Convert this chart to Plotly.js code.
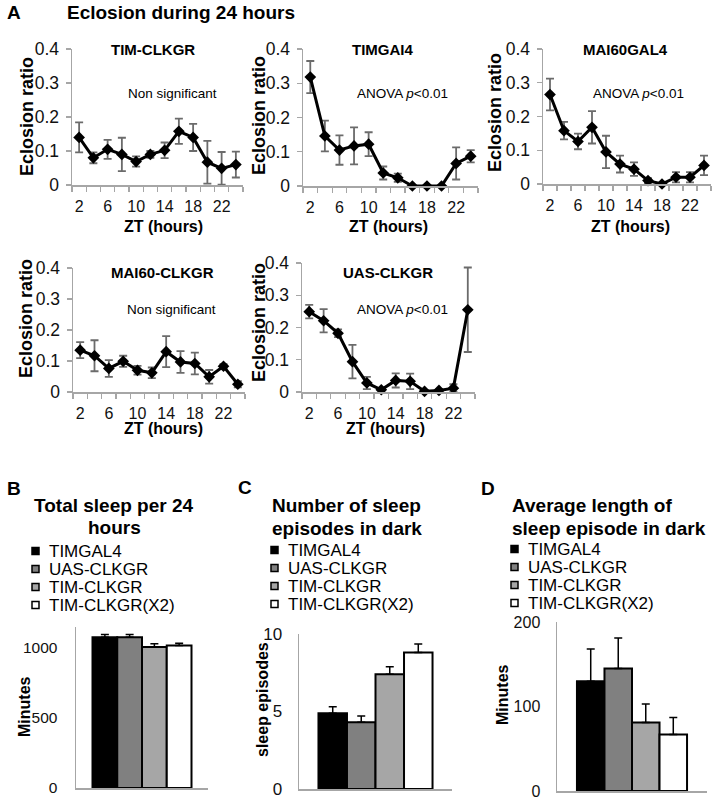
<!DOCTYPE html>
<html><head><meta charset="utf-8">
<script src="https://cdn.plot.ly/plotly-3.0.1.min.js"></script>
<style>html,body{margin:0;padding:0;background:#fff}#chart{width:715px;height:800px}</style>
</head><body><div id="chart"></div>
<script>
// ---------- data ----------
const zt = [2,4,6,8,10,12,14,16,18,20,22,24];
const ztTickVals = [2,6,10,14,18,22];
const ztTickText = ['2','6','10','14','18','22'];
const ratioTickVals = [0,0.1,0.2,0.3,0.4];
const ratioTickText = ['0','0.1','0.2','0.3','0.4'];

const timClkgr      = [0.140,0.080,0.105,0.090,0.069,0.090,0.102,0.158,0.140,0.067,0.049,0.060];
const timClkgrErr   = [0.044,0.016,0.028,0.049,0.015,0.010,0.023,0.037,0.040,0.063,0.048,0.038];
const timGal4       = [0.318,0.146,0.105,0.117,0.122,0.038,0.024,0,0,0,0.066,0.087];
const timGal4Err    = [0.047,0.045,0.043,0.054,0.035,0.019,0.012,0,0,0,0.047,0.018];
const mai60Gal4     = [0.265,0.158,0.126,0.168,0.095,0.059,0.044,0.010,0,0.020,0.020,0.055];
const mai60Gal4Err  = [0.047,0.026,0.023,0.048,0.048,0.025,0.020,0.007,0,0.015,0.015,0.029];
const mai60Clkgr    = [0.135,0.117,0.076,0.099,0.070,0.062,0.130,0.097,0.092,0.049,0.083,0.025];
const mai60ClkgrErr = [0.026,0.050,0.027,0.018,0.014,0.017,0.050,0.035,0.035,0.022,0.007,0.010];
const uasClkgr      = [0.249,0.221,0.182,0.094,0.028,0.007,0.036,0.033,0.002,0.005,0.012,0.255];
const uasClkgrErr   = [0.021,0.036,0.012,0.052,0.019,0.003,0.022,0.024,0.002,0.003,0.012,0.131];

const genotypes = ['TIMGAL4','UAS-CLKGR','TIM-CLKGR','TIM-CLKGR(X2)'];
const totalSleep       = [1076,1076,1007,1017];
const totalSleepErr    = [20,20,24,17];
const sleepEpisodes    = [4.88,4.30,7.40,8.80];
const sleepEpisodesErr = [0.43,0.41,0.49,0.55];
const episodeLength    = [130,145,81,67];
const episodeLengthErr = [38,36,22,20];

// ---------- style / layout helpers ----------
const W = 715, H = 800;
const FONT = 'Liberation Sans, Arial, Helvetica, sans-serif';
const AXC = '#a6a6a6';
const barColors = ['#000000','#808080','#a6a6a6','#ffffff'];
const X = p => p / W;
const Y = p => 1 - p / H;

function ztAxis(x0, x1, anchor) {
  return {domain:[X(x0), X(x1)], anchor, range:[1,25], tickmode:'array',
    tickvals:ztTickVals, ticktext:ztTickText, ticks:'', showline:true, linecolor:AXC,
    linewidth:1.5, showgrid:false, zeroline:false, ticklabelstandoff:6,
    tickfont:{family:FONT, size:16, color:'#111'},
    minor:{tick0:1, dtick:2, ticks:'outside', ticklen:5, tickcolor:AXC, tickwidth:1.3, showgrid:false},
    fixedrange:true};
}
function ratioAxis(yTop, yBot, anchor) {
  return {domain:[Y(yBot), Y(yTop)], anchor, range:[0,0.4], tickmode:'array',
    tickvals:ratioTickVals, ticktext:ratioTickText, ticks:'outside', ticklen:5,
    tickcolor:AXC, tickwidth:1.3, showline:true, linecolor:AXC, linewidth:1.5,
    showgrid:false, zeroline:false, ticklabelstandoff:3,
    tickfont:{family:FONT, size:17.5, color:'#111'}, fixedrange:true};
}
function barXAxis(x0, x1, anchor, half) {
  return {domain:[X(x0), X(x1)], anchor, type:'category', range:[-half, half],
    showline:true, linecolor:AXC, linewidth:1.5, showticklabels:false, ticks:'',
    showgrid:false, zeroline:false, fixedrange:true};
}
function barYAxis(yTop, yBot, anchor, top, vals, standoff, fs) {
  return {domain:[Y(yBot), Y(yTop)], anchor, range:[0, top], tickmode:'array',
    tickvals:vals, ticks:'', showline:true, linecolor:AXC, linewidth:1.5,
    showgrid:false, zeroline:false, ticklabelstandoff:standoff,
    tickfont:{family:FONT, size:fs, color:'#111'}, fixedrange:true};
}

// ---------- traces ----------
const traces = [];
function lineTrace(vals, errs, n) {
  return {type:'scatter', mode:'lines+markers', x:zt, y:vals,
    xaxis:'x'+(n===1?'':n), yaxis:'y'+(n===1?'':n),
    line:{color:'#000', width:3}, marker:{symbol:'diamond', size:9, color:'#000'},
    error_y:{type:'data', array:errs, visible:true, color:'#6b6b6b', thickness:1.8, width:4},
    cliponaxis:false, showlegend:false, hoverinfo:'skip'};
}
traces.push(lineTrace(timClkgr, timClkgrErr, 1));
traces.push(lineTrace(timGal4, timGal4Err, 2));
traces.push(lineTrace(mai60Gal4, mai60Gal4Err, 3));
traces.push(lineTrace(mai60Clkgr, mai60ClkgrErr, 4));
traces.push(lineTrace(uasClkgr, uasClkgrErr, 5));

function barTraces(vals, errs, n) {
  genotypes.forEach((g, i) => {
    traces.push({type:'bar', x:['all'], y:[vals[i]], name:g,
      xaxis:'x'+n, yaxis:'y'+n,
      marker:{color:barColors[i], line:{color:'#000', width:2}},
      error_y:{type:'data', symmetric:false, array:[errs[i]], arrayminus:[0],
        color:'#000', thickness:1.5, width:4},
      showlegend:false, hoverinfo:'skip'});
  });
}
barTraces(totalSleep, totalSleepErr, 6);
barTraces(sleepEpisodes, sleepEpisodesErr, 7);
barTraces(episodeLength, episodeLengthErr, 8);

// ---------- annotations ----------
const ann = [];
function txt(text, x, y, size, opts) {
  ann.push(Object.assign({text, x:X(x), y:Y(y), xref:'paper', yref:'paper', showarrow:false,
    xanchor:'center', yanchor:'middle', font:{family:FONT, size, color:'#000'}}, opts||{}));
}
const B = s => '<b>' + s + '</b>';
txt(B('A'), 5, 12, 19, {xanchor:'left'});
txt(B('Eclosion during 24 hours'), 65, 12, 19, {xanchor:'left'});

txt(B('TIM-CLKGR'), 153, 49, 15);
txt(B('TIMGAI4'), 382, 49, 15);
txt(B('MAI60GAL4'), 625, 49, 15);
txt(B('MAI60-CLKGR'), 162, 272, 15);
txt(B('UAS-CLKGR'), 388, 272, 15);

txt('Non significant', 172, 94, 13.5);
txt('ANOVA <i>p</i>&lt;0.01', 402, 94, 13.5);
txt('ANOVA <i>p</i>&lt;0.01', 638, 94, 13.5);
txt('Non significant', 171, 310, 13.5);
txt('ANOVA <i>p</i>&lt;0.01', 402, 310, 13.5);

[[27,117],[259,116],[495,113],[26,319],[259,323]].forEach(p =>
  txt(B('Eclosion ratio'), p[0], p[1], 18, {textangle:-90}));
[[163,227],[388,227],[630,227],[163,428],[386,428]].forEach(p =>
  txt(B('ZT (hours)'), p[0], p[1], 16));

txt(B('B'), 5, 489, 19, {xanchor:'left'});
txt(B('C'), 236, 487, 19, {xanchor:'left'});
txt(B('D'), 479, 489, 19, {xanchor:'left'});

txt(B('Total sleep per 24'), 114, 506, 19);
txt(B('hours'), 114, 527, 19);
txt(B('Number of sleep'), 270, 506, 19, {xanchor:'left'});
txt(B('episodes in dark'), 270, 528, 19, {xanchor:'left'});
txt(B('Average length of'), 510, 506, 19, {xanchor:'left'});
txt(B('sleep episode in dark'), 510, 528, 19, {xanchor:'left'});

txt(B('Minutes'), 24, 707, 16, {textangle:-90});
txt(B('sleep episodes'), 262, 700, 16, {textangle:-90});
txt(B('Minutes'), 502, 695, 16, {textangle:-90});

// manual legends
const shapes = [];
function legend(x0, y0) {
  genotypes.forEach((g, i) => {
    const yc = y0 + 18 * i;
    shapes.push({type:'rect', xref:'paper', yref:'paper', x0:X(x0), x1:X(x0+7),
      y0:Y(yc+3.5), y1:Y(yc-3.5), fillcolor:barColors[i], line:{color:'#000', width:1.5}});
    txt(g, x0+15, yc, 17, {xanchor:'left'});
  });
}
legend(32, 551);
legend(271, 550);
legend(511, 549);

const layout = {
  width:W, height:H, margin:{l:0,r:0,t:0,b:0}, showlegend:false,
  paper_bgcolor:'#fff', plot_bgcolor:'rgba(0,0,0,0)',
  barmode:'group', bargap:0.25, bargroupgap:0,
  font:{family:FONT, color:'#000'},
  xaxis: ztAxis(72, 243, 'y'),   yaxis: ratioAxis(49, 185, 'x'),
  xaxis2: ztAxis(303, 478, 'y2'), yaxis2: ratioAxis(49, 186, 'x2'),
  xaxis3: ztAxis(543, 711, 'y3'), yaxis3: ratioAxis(49, 184, 'x3'),
  xaxis4: ztAxis(73, 245, 'y4'),  yaxis4: ratioAxis(268, 392, 'x4'),
  xaxis5: ztAxis(302, 475, 'y5'), yaxis5: ratioAxis(263, 392, 'x5'),
  xaxis6: barXAxis(76, 208, 'y6', 0.5),    yaxis6: barYAxis(627, 788, 'x6', 1150, [0,500,1000], 14, 15.5),
  xaxis7: barXAxis(299, 452, 'y7', 0.503), yaxis7: barYAxis(634, 789, 'x7', 10, [0,5,10], 12, 17),
  xaxis8: barXAxis(557, 707, 'y8', 0.511), yaxis8: barYAxis(622, 791, 'x8', 200, [0,100,200], 12, 16),
  annotations: ann, shapes: shapes
};
Plotly.newPlot('chart', traces, layout, {displayModeBar:false, staticPlot:true});
</script></body></html>
